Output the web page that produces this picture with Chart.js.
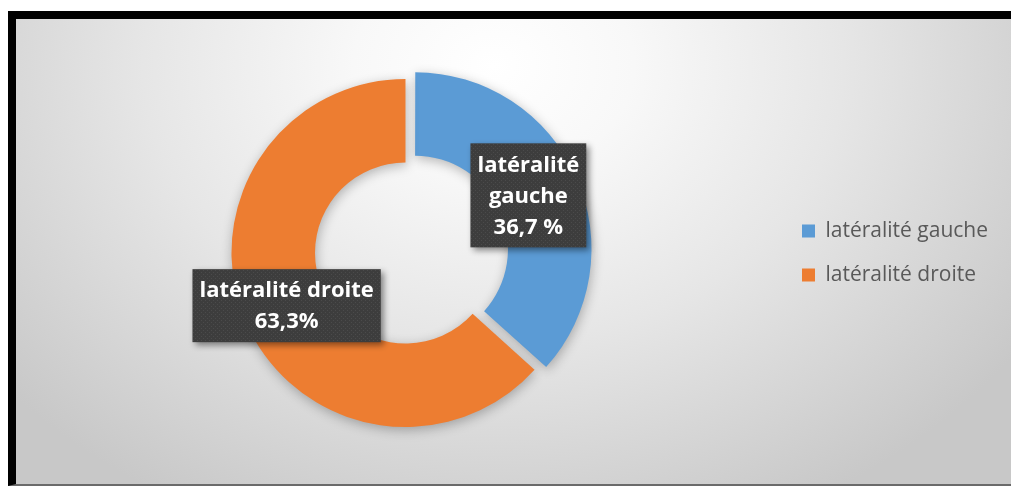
<!DOCTYPE html>
<html>
<head>
<meta charset="utf-8">
<title>Latéralité</title>
<script src="https://cdn.jsdelivr.net/npm/chart.js"></script>
<style>
  html, body { margin: 0; padding: 0; background: #fff; }
  #frame {
    position: absolute; left: 8px; top: 11px; width: 995px; height: 465px;
    border-left: 8px solid #000; border-top: 8px solid #000; border-bottom: 2px solid #6a6a6a;
    background: radial-gradient(ellipse 64% 108% at 48% 10%, #ffffff 0%, #f8f8f8 22%, #e6e6e6 55%, #c8c8c8 100%);
  }
  canvas { display: block; }
</style>
</head>
<body>
<div id="frame"><canvas id="myChart" width="995" height="465"></canvas></div>

<script>
  // categories and values
  var categories = ["latéralité gauche", "latéralité droite"];
  var values = [36.7, 63.3];
  // text inside the dark label boxes
  var labelNameLines = [["latéralité", "gauche"], ["latéralité droite"]];
  var percentSuffix = [" %", "%"];
  var colors = ["#5B9BD5", "#ED7D31"];

  // dotted dark fill for the label boxes
  function makeDotPattern(ctx) {
    var c = document.createElement("canvas");
    c.width = 4; c.height = 4;
    var g = c.getContext("2d");
    g.fillStyle = "#3d3d3d";
    g.fillRect(0, 0, 4, 4);
    g.fillStyle = "#4b4b4b";
    g.fillRect(1, 1, 1, 1);
    g.fillRect(3, 3, 1, 1);
    return ctx.createPattern(c, "repeat");
  }

  // soft shadow under the ring
  var ringShadow = {
    id: "ringShadow",
    beforeDatasetsDraw: function(chart) {
      var ctx = chart.ctx;
      ctx.save();
      ctx.shadowColor = "rgba(0,0,0,0.28)";
      ctx.shadowBlur = 12;
      ctx.shadowOffsetX = 1;
      ctx.shadowOffsetY = 3;
    },
    afterDatasetsDraw: function(chart) {
      chart.ctx.restore();
    }
  };

  // data labels drawn as dark boxes with white bold text, placed on the middle of each ring slice
  var labelBoxes = {
    id: "labelBoxes",
    afterDatasetsDraw: function(chart) {
      var ctx = chart.ctx;
      var meta = chart.getDatasetMeta(0);
      var pattern = makeDotPattern(ctx);
      var lineH = 31, padX = 7, padY = 5.5;
      var nudgeX = [2, 2], nudgeY = [-4, -1];
      ctx.save();
      ctx.font = "bold 22px 'Open Sans'";
      meta.data.forEach(function(arc, i) {
        var p = arc.getProps(["x", "y", "startAngle", "endAngle", "innerRadius", "outerRadius"]);
        var mid = (p.startAngle + p.endAngle) / 2;
        var r = (p.innerRadius + p.outerRadius) / 2;
        var cx = p.x + Math.cos(mid) * r + nudgeX[i];
        var cy = p.y + Math.sin(mid) * r + nudgeY[i];
        var lines = labelNameLines[i].concat([String(values[i]).replace(".", ",") + percentSuffix[i]]);
        var w = 0;
        lines.forEach(function(t) { w = Math.max(w, ctx.measureText(t).width); });
        var bw = w + padX * 2;
        var bh = lines.length * lineH + padY * 2;
        var x = cx - bw / 2;
        var y = cy - bh / 2;
        ctx.save();
        ctx.shadowColor = "rgba(0,0,0,0.45)";
        ctx.shadowBlur = 6;
        ctx.shadowOffsetX = 3;
        ctx.shadowOffsetY = 3;
        ctx.fillStyle = pattern;
        ctx.fillRect(x, y, bw, bh);
        ctx.restore();
        ctx.fillStyle = "#ffffff";
        ctx.textAlign = "center";
        ctx.textBaseline = "middle";
        lines.forEach(function(t, k) {
          ctx.fillText(t, x + bw / 2, y + padY + lineH * k + lineH / 2 + 1);
        });
      });
      ctx.restore();
    }
  };

  var ctx = document.getElementById("myChart").getContext("2d");
  var chart = new Chart(ctx, {
    type: "doughnut",
    data: {
      labels: categories,
      datasets: [{
        data: values,
        backgroundColor: colors,
        borderWidth: 0,
        offset: [41, 0]
      }]
    },
    options: {
      responsive: false,
      animation: false,
      radius: 174,
      cutout: "52%",
      layout: { padding: { left: 16, right: 13, top: 3, bottom: 0 } },
      plugins: {
        tooltip: { enabled: false },
        legend: {
          position: "right",
          labels: {
            boxWidth: 13,
            boxHeight: 13,
            padding: 23,
            color: "#595959",
            font: { family: "'Open Sans'", size: 21 }
          }
        }
      }
    },
    plugins: [ringShadow, labelBoxes]
  });
</script>
</body>
</html>
